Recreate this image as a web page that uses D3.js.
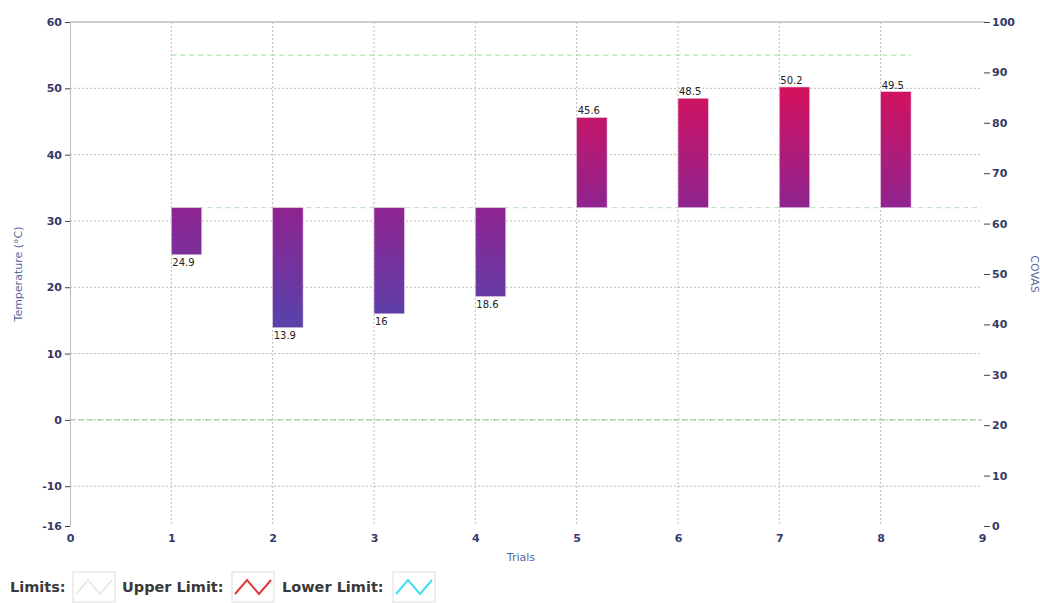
<!DOCTYPE html>
<html>
<head>
<meta charset="utf-8">
<script src="https://cdnjs.cloudflare.com/ajax/libs/d3/7.8.5/d3.min.js"></script>
<style>
body { margin: 0; background: #fff; }
.tick text { font-family: "DejaVu Sans", sans-serif; font-size: 11px; font-weight: bold; fill: #343a68; }
.grid line { stroke: #bbb; stroke-dasharray: 2,2; }
.lbl { font-family: "DejaVu Sans", sans-serif; font-size: 10px; fill: #222; }
.title { font-family: "DejaVu Sans", sans-serif; font-size: 11px; fill: #5668a0; }
.legend { font-family: "DejaVu Sans", sans-serif; font-size: 14.5px; font-weight: bold; fill: #3a3a3a; }
</style>
</head>
<body>
<script>
// data
var trials = [1, 2, 3, 4, 5, 6, 7, 8]
var temps = [24.9, 13.9, 16, 18.6, 45.6, 48.5, 50.2, 49.5]
var baseline = 32
var xTicks = [0, 1, 2, 3, 4, 5, 6, 7, 8, 9]
var yTicks = [-16, -10, 0, 10, 20, 30, 40, 50, 60]
var covasTicks = [0, 10, 20, 30, 40, 50, 60, 70, 80, 90, 100]
// limit lines: [value, from trial, to trial, colour]
var limitLines = [[55, 1, 8.3, "#98e098"], [baseline, 1, 9, "#b8dcb8"], [0, 0, 9, "#80d080"]]

var W = 1040, H = 603
var pLeft = 70, pRight = 982, pTop = 22, pBottom = 526

var x = d3.scaleLinear().domain([0, 9]).range([pLeft, pRight])
var y = d3.scaleLinear().domain([-16, 60]).range([pBottom, pTop])
var y2 = d3.scaleLinear().domain([0, 100]).range([pBottom, pTop])

var svg = d3.select("body").append("svg").attr("width", W).attr("height", H)

var defs = svg.append("defs")
var grad = defs.append("linearGradient").attr("id", "barGrad")
    .attr("gradientUnits", "userSpaceOnUse")
    .attr("x1", 0).attr("x2", 0).attr("y1", y(51)).attr("y2", y(13))
grad.append("stop").attr("offset", 0).attr("stop-color", "#d8105a")
grad.append("stop").attr("offset", 0.5).attr("stop-color", "#8e2490")
grad.append("stop").attr("offset", 1).attr("stop-color", "#5444ac")

// grid
svg.append("g").attr("class", "grid")
    .selectAll("line").data(yTicks.filter(d => d > -16 && d < 60)).join("line")
    .attr("x1", pLeft).attr("x2", pRight).attr("y1", d => y(d)).attr("y2", d => y(d))
svg.append("g").attr("class", "grid")
    .selectAll("line").data(xTicks.filter(d => d > 0 && d < 9)).join("line")
    .attr("x1", d => x(d)).attr("x2", d => x(d)).attr("y1", pTop).attr("y2", pBottom)

// frame
svg.append("line").attr("x1", pLeft).attr("x2", pRight + 3).attr("y1", pTop).attr("y2", pTop)
    .attr("stroke", "#ccc").attr("stroke-width", 2)

// limit lines
svg.append("g").selectAll("line").data(limitLines).join("line")
    .attr("x1", d => x(d[1])).attr("x2", d => x(d[2]))
    .attr("y1", d => y(d[0])).attr("y2", d => y(d[0]))
    .attr("stroke", d => d[3]).attr("stroke-dasharray", "5,4")

// bars
var bw = x(1.3) - x(1)
svg.append("g").selectAll("rect").data(temps).join("rect")
    .attr("x", (d, i) => x(trials[i]))
    .attr("width", bw)
    .attr("y", d => y(Math.max(d, baseline)))
    .attr("height", d => Math.abs(y(d) - y(baseline)))
    .attr("fill", "url(#barGrad)")
    .attr("stroke", "#e8c8e0").attr("stroke-width", 0.6)

svg.append("g").selectAll("text").data(temps).join("text")
    .attr("class", "lbl")
    .attr("x", (d, i) => x(trials[i]) + 1)
    .attr("y", d => d > baseline ? y(d) - 3 : y(d) + 11)
    .text(d => d)

// axes
var fmt = d => String(d)
var xAxis = svg.append("g").attr("transform", "translate(0," + pBottom + ")")
    .call(d3.axisBottom(x).tickValues(xTicks).tickFormat(fmt).tickSize(0).tickPadding(8))
xAxis.select(".domain").remove()

var yAxis = svg.append("g").attr("transform", "translate(" + pLeft + ",0)")
    .call(d3.axisLeft(y).tickValues(yTicks).tickFormat(fmt).tickSize(5).tickPadding(3))
yAxis.select(".domain").attr("stroke", "#bbb")
yAxis.selectAll(".tick line").attr("stroke", "#444")

var yAxis2 = svg.append("g").attr("transform", "translate(" + (pRight + 2) + ",0)")
    .call(d3.axisRight(y2).tickValues(covasTicks).tickFormat(fmt).tickSize(6).tickPadding(2))
yAxis2.select(".domain").remove()
yAxis2.selectAll(".tick line").attr("stroke", "#444")

// titles
svg.append("text").attr("class", "title").attr("text-anchor", "middle")
    .attr("transform", "translate(22," + y(22) + ") rotate(-90)").text("Temperature (°C)")
svg.append("text").attr("class", "title").attr("text-anchor", "middle")
    .attr("transform", "translate(1031," + y2(50) + ") rotate(90)").text("COVAS")
svg.append("text").attr("class", "title").attr("text-anchor", "middle")
    .attr("x", x(4.45)).attr("y", 561).text("Trials")

// legend
var lg = svg.append("g").attr("transform", "translate(0,592)")
lg.append("text").attr("class", "legend").attr("x", 10).attr("y", 0).text("Limits:")
var items = [
  {x: 73, col: "#e4efe4", label: "Upper Limit:", tx: 122},
  {x: 232, col: "#e03838", label: "Lower Limit:", tx: 282},
  {x: 393, col: "#40e0f0", label: null}
]
items.forEach(function (it) {
  lg.append("rect").attr("x", it.x).attr("y", -20).attr("width", 42).attr("height", 30)
    .attr("fill", "#fff").attr("stroke", "#ddd")
  lg.append("path")
    .attr("d", d3.line()([[it.x + 3, 2], [it.x + 15, -12], [it.x + 27, 2], [it.x + 39, -12]]))
    .attr("fill", "none").attr("stroke", it.col).attr("stroke-width", 2)
  if (it.label) lg.append("text").attr("class", "legend").attr("x", it.tx).attr("y", 0).text(it.label)
})
</script>
</body>
</html>
